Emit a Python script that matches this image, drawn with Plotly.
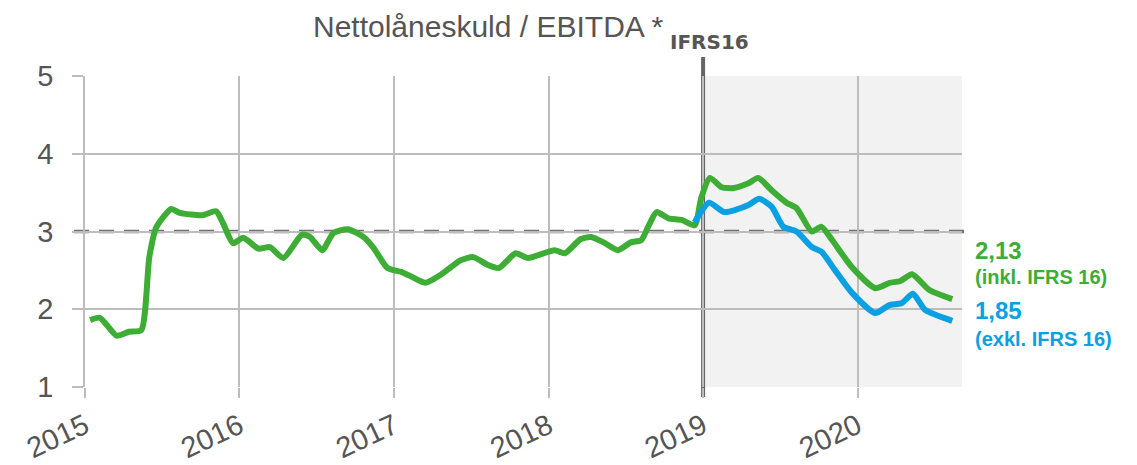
import plotly.graph_objects as go

# ---- data ----
green_dates = [
    "2015-01-13", "2015-02-05", "2015-03-17", "2015-04-15", "2015-05-14", "2015-06-02",
    "2015-06-19", "2015-07-24", "2015-08-13", "2015-10-06", "2015-11-07", "2015-11-23",
    "2015-12-17", "2016-01-10", "2016-02-15", "2016-03-13", "2016-04-14", "2016-05-28",
    "2016-06-16", "2016-07-15", "2016-08-10", "2016-09-13", "2016-10-20", "2016-11-13",
    "2016-12-16", "2017-01-17", "2017-02-03", "2017-03-15", "2017-04-20", "2017-06-07",
    "2017-07-07", "2017-08-10", "2017-09-05", "2017-10-15", "2017-11-13", "2018-01-15",
    "2018-02-08", "2018-03-17", "2018-04-11", "2018-05-11", "2018-06-14", "2018-07-14",
    "2018-08-08", "2018-08-24", "2018-09-13", "2018-10-11", "2018-11-11", "2018-12-12",
    "2018-12-28", "2019-01-17", "2019-02-14", "2019-03-15", "2019-04-18", "2019-05-11",
    "2019-06-12", "2019-07-17", "2019-08-10", "2019-09-15", "2019-10-08", "2019-11-02",
    "2019-12-19", "2020-02-12", "2020-03-17", "2020-04-10", "2020-05-09", "2020-06-18",
    "2020-08-12",
]
green_values = [
    1.86, 1.89, 1.66, 1.71, 1.73, 2.67,
    3.06, 3.29, 3.24, 3.21, 3.26, 3.11,
    2.85, 2.92, 2.78, 2.80, 2.66, 2.96,
    2.93, 2.76, 2.98, 3.03, 2.93, 2.79,
    2.53, 2.48, 2.44, 2.34, 2.44, 2.63,
    2.67, 2.57, 2.53, 2.72, 2.66, 2.76,
    2.72, 2.90, 2.93, 2.86, 2.76, 2.86,
    2.89, 3.06, 3.25, 3.17, 3.15, 3.08,
    3.44, 3.69, 3.57, 3.56, 3.62, 3.69,
    3.53, 3.37, 3.30, 3.00, 3.06, 2.89,
    2.54, 2.27, 2.34, 2.36, 2.45, 2.25,
    2.13,
]

blue_dates = [
    "2018-12-12", "2019-01-15", "2019-02-20", "2019-03-20", "2019-04-18", "2019-05-14",
    "2019-06-12", "2019-07-10", "2019-08-10", "2019-09-15", "2019-10-08", "2019-11-09",
    "2019-12-19", "2020-02-12", "2020-03-15", "2020-04-15", "2020-05-11", "2020-06-09",
    "2020-08-12",
]
blue_values = [
    3.12, 3.37, 3.25, 3.28, 3.34, 3.42,
    3.32, 3.06, 3.00, 2.80, 2.74, 2.50,
    2.21, 1.95, 2.05, 2.08, 2.20, 1.99,
    1.85,
]

year_ticks = ["2015-01-01", "2016-01-01", "2017-01-01", "2018-01-01", "2019-01-01", "2020-01-01"]
year_labels = ["2015", "2016", "2017", "2018", "2019", "2020"]
y_ticks = [1, 2, 3, 4, 5]

title_text = "Nettolåneskuld / EBITDA *"
ifrs_text = "IFRS16"
green_label = "2,13"
green_sub = "(inkl. IFRS 16)"
blue_label = "1,85"
blue_sub = "(exkl. IFRS 16)"

GREEN = "#3DAD36"
BLUE = "#0AA0E1"
GRID = "#BDBDBD"
TXT = "#555555"
FONT = "Liberation Sans"

x_end = "2020-09-04"

fig = go.Figure()
fig.add_trace(go.Scatter(x=green_dates, y=green_values, mode="lines",
                         line=dict(color=GREEN, width=6, shape="spline", smoothing=0.6),
                         hoverinfo="skip", showlegend=False))
fig.add_trace(go.Scatter(x=blue_dates, y=blue_values, mode="lines",
                         line=dict(color=BLUE, width=6, shape="spline", smoothing=0.6),
                         hoverinfo="skip", showlegend=False))

shapes = [
    dict(type="rect", xref="x", yref="paper", x0="2019-01-01", x1=x_end, y0=0, y1=1,
         fillcolor="#F2F2F2", line=dict(width=0), layer="below"),
    dict(type="line", xref="paper", yref="y", x0=-0.0125, x1=1.007, y0=3, y1=3,
         line=dict(color="#707070", width=3.5, dash="15px,10px"), layer="between"),
    dict(type="line", xref="x", yref="paper", x0="2019-01-01", x1="2019-01-01",
         y0=-0.032, y1=1.061, line=dict(color="#666666", width=4), layer="between"),
]

ax = 85
annotations = [
    dict(text=title_text, xref="paper", yref="paper", x=(665 - ax) / 877, y=(387 - 26) / 311,
         xanchor="right", yanchor="middle", showarrow=False,
         font=dict(family=FONT, size=30, color=TXT)),
    dict(text="<b>" + ifrs_text + "</b>", xref="paper", yref="paper", x=(668 - ax) / 877,
         y=(387 - 42) / 311, xanchor="left", yanchor="middle", showarrow=False,
         font=dict(family="DejaVu Sans", size=20, color=TXT)),
    dict(text="<b>" + green_label + "</b>", xref="paper", yref="paper", x=(973 - ax) / 877,
         y=(387 - 250) / 311, xanchor="left", yanchor="middle", showarrow=False,
         font=dict(family=FONT, size=24, color=GREEN)),
    dict(text="<b>" + green_sub + "</b>", xref="paper", yref="paper", x=(973 - ax) / 877,
         y=(387 - 277) / 311, xanchor="left", yanchor="middle", showarrow=False,
         font=dict(family=FONT, size=20, color=GREEN)),
    dict(text="<b>" + blue_label + "</b>", xref="paper", yref="paper", x=(973 - ax) / 877,
         y=(387 - 310) / 311, xanchor="left", yanchor="middle", showarrow=False,
         font=dict(family=FONT, size=24, color=BLUE)),
    dict(text="<b>" + blue_sub + "</b>", xref="paper", yref="paper", x=(973 - ax) / 877,
         y=(387 - 339) / 311, xanchor="left", yanchor="middle", showarrow=False,
         font=dict(family=FONT, size=20, color=BLUE)),
]

fig.update_layout(
    width=1129, height=457,
    margin=dict(l=77, r=175, t=68, b=78, autoexpand=False),
    paper_bgcolor="white", plot_bgcolor="white",
    shapes=shapes, annotations=annotations,
    font=dict(family=FONT, color=TXT),
    xaxis=dict(
        type="date", range=["2015-01-01", x_end], automargin=False,
        tickmode="array", tickvals=year_ticks, ticktext=year_labels,
        tickangle=-25, tickfont=dict(size=29, color=TXT),
        showgrid=True, gridcolor=GRID, gridwidth=1.5,
        ticks="outside", ticklen=10, tickcolor=GRID, tickwidth=1.5,
        showline=False, zeroline=False,
    ),
    yaxis=dict(
        range=[0.999, 5.001], tickmode="array", tickvals=y_ticks, automargin=False,
        tickfont=dict(size=29, color=TXT),
        showgrid=True, gridcolor=GRID, gridwidth=1.5,
        ticks="outside", ticklen=11, tickcolor=GRID, tickwidth=1.5,
        ticklabelstandoff=13,
        showline=True, linecolor=GRID, linewidth=1.5, zeroline=False,
    ),
)

fig.write_html("out.html")
